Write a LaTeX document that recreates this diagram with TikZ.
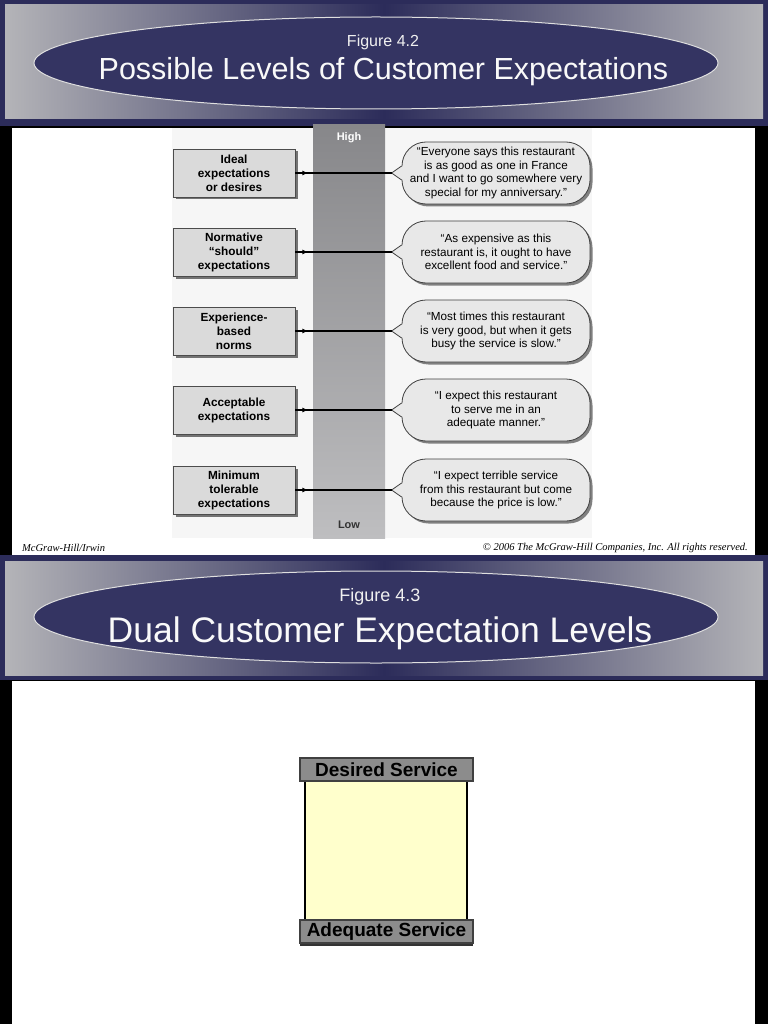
\documentclass[tikz,border=0pt]{standalone}
\usepackage{fontspec}
\setmainfont{Liberation Sans}
\newfontfamily\footfont{Liberation Serif}
\usetikzlibrary{shadows,arrows.meta,shapes.geometric}
\definecolor{slidenavy}{RGB}{44,44,90}
\definecolor{ellfill}{RGB}{52,52,98}
\definecolor{hdrgray}{RGB}{180,180,184}
\definecolor{figbg}{RGB}{246,246,246}
\definecolor{boxfill}{RGB}{218,218,218}
\definecolor{bubfill}{RGB}{232,232,232}
\definecolor{bartop}{RGB}{135,135,138}
\definecolor{barbot}{RGB}{190,190,192}
\definecolor{svcgray}{RGB}{140,140,140}
\definecolor{bodyyellow}{RGB}{255,255,204}
\tikzset{
  titleell/.style={ellipse, fill=ellfill, draw=white!75!gray, line width=1pt, minimum width=684pt, minimum height=92pt, inner sep=0pt},
  figlabel/.style={text=white!88!gray, font=\fontsize{16}{18}\selectfont, inner sep=0pt},
  titletext/.style={text=white!95!gray, font=\fontsize{30.5}{34}\selectfont, inner sep=0pt},
  levelbox/.style={draw=black!70, fill=boxfill, line width=0.8pt, minimum width=122pt, minimum height=48pt, inner sep=0pt, align=center, font=\bfseries\fontsize{11.8}{14}\selectfont, drop shadow={shadow xshift=2.5pt, shadow yshift=-2.5pt, fill=black!55, opacity=1}},
  bubble/.style={draw=black!75, fill=bubfill, line width=0.8pt, rounded corners=24pt, minimum width=188pt, minimum height=62pt, inner sep=0pt, align=center, font=\fontsize{11.7}{13.5}\selectfont, drop shadow={shadow xshift=2.5pt, shadow yshift=-2.5pt, fill=black!50, opacity=1}},
  conn/.style={draw=black, line width=1.2pt},
  tip/.style={-{Latex[length=6pt,width=5pt]}, line width=1.2pt},
  svcbox/.style={draw=black!75, fill=svcgray, line width=1.5pt, minimum width=173pt, minimum height=23pt, inner sep=0pt, font=\bfseries\fontsize{19}{20}\selectfont},
  foot/.style={font=\footfont\itshape\fontsize{10.5}{12}\selectfont, inner sep=0pt},
}
\begin{document}
\begin{tikzpicture}[x=1pt,y=-1pt]
\useasboundingbox (0,0) rectangle (768,1024);
% backgrounds
\fill[black] (0,0) rectangle (768,1024);
\fill[slidenavy] (0,0) rectangle (768,126);
\fill[slidenavy] (0,555) rectangle (768,680);
\shade[left color=hdrgray, right color=slidenavy] (5,5) rectangle (384,119);
\shade[left color=slidenavy, right color=hdrgray] (384,5) rectangle (763,119);
\shade[left color=hdrgray, right color=slidenavy] (5,561) rectangle (384,675);
\shade[left color=slidenavy, right color=hdrgray] (384,561) rectangle (763,675);
\fill[white] (12,128) rectangle (755,555);
\fill[white] (12,681) rectangle (755,1024);

% ---------- slide 1 header ----------
\node[titleell] (E1) at (376,63) {};
\node[figlabel] (F42) at (383,42) {Figure 4.2};
\node[titletext] (T42) at (383.5,72) {Possible Levels of Customer Expectations};

% ---------- figure 4.2 ----------
\fill[figbg] (172,128) rectangle (592,538);
\shade[top color=bartop, bottom color=barbot] (313,125) rectangle (385,538);
\node[text=white, font=\bfseries\fontsize{11}{13}\selectfont] (High) at (349,138) {High};
\node[text=black!80, font=\bfseries\fontsize{11}{13}\selectfont] (Low) at (349,525) {Low};

\node[levelbox] (L1) at (234,173) {Ideal\\expectations\\or desires};
\node[levelbox] (L2) at (234,252) {Normative\\“should”\\expectations};
\node[levelbox] (L3) at (234,331) {Experience-\\based\\norms};
\node[levelbox] (L4) at (234,410) {Acceptable\\expectations};
\node[levelbox] (L5) at (234,490) {Minimum\\tolerable\\expectations};

\node[bubble] (B1) at (496,173) {“Everyone says this restaurant\\is as good as one in France\\and I want to go somewhere very\\special for my anniversary.”};
\node[bubble] (B2) at (496,252) {“As expensive as this\\restaurant is, it ought to have\\excellent food and service.”};
\node[bubble] (B3) at (496,331) {“Most times this restaurant\\is very good, but when it gets\\busy the service is slow.”};
\node[bubble] (B4) at (496,410) {“I expect this restaurant\\to serve me in an\\adequate manner.”};
\node[bubble] (B5) at (496,490) {“I expect terrible service\\from this restaurant but come\\because the price is low.”};

\foreach \i in {1,...,5}{
  \coordinate (T\i) at ([xshift=-10pt]B\i.west);
  \fill[bubfill] ([xshift=1.5pt,yshift=7pt]B\i.west) -- (T\i) -- ([xshift=1.5pt,yshift=-7pt]B\i.west) -- cycle;
  \draw[draw=black!75, line width=0.8pt] ([yshift=7pt]B\i.west) -- (T\i) -- ([yshift=-7pt]B\i.west);
  \draw[conn] (L\i.east) -- (T\i);
  \draw[tip] (L\i.east) -- ++(13,0);
}

\node[foot, anchor=west] (FL) at (22,548) {McGraw-Hill/Irwin};
\node[foot, anchor=east] (FR) at (748,548) {\textcopyright{} 2006 The McGraw-Hill Companies, Inc. All rights reserved.};

% ---------- slide 2 header ----------
\node[titleell] (E2) at (376,617) {};
\node[figlabel, font=\fontsize{18}{20}\selectfont] (F43) at (380,597) {Figure 4.3};
\node[titletext, font=\fontsize{35.5}{38}\selectfont] (T43) at (380,633) {Dual Customer Expectation Levels};

% ---------- figure 4.3 ----------
\node[draw=black, fill=bodyyellow, line width=2.5pt, minimum width=162pt, minimum height=139pt, inner sep=0pt] (Body) at (386,850.5) {};
\node[svcbox] (DS) at (386.5,769.5) {Desired Service};
\node[svcbox, drop shadow={shadow xshift=0pt, shadow yshift=-3pt, fill=black!80, opacity=1}] (AS) at (386.5,931.5) {Adequate Service};
\end{tikzpicture}
\end{document}
